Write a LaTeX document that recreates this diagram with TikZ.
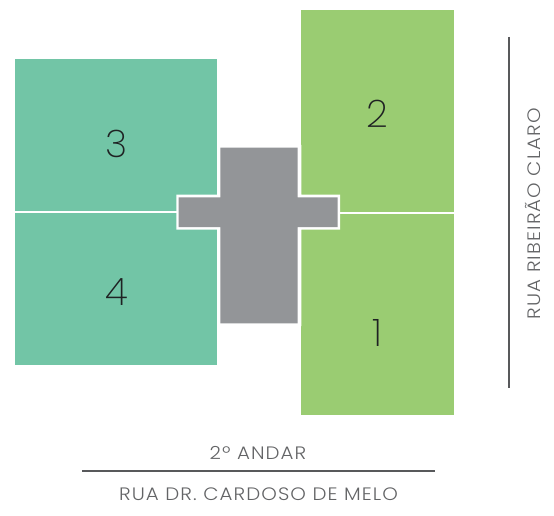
\documentclass[tikz,border=0pt]{standalone}
\usepackage{fontspec}
\setmainfont{Poppins Light}
\newfontfamily\labelfont[FakeStretch=1.1,LetterSpace=6]{Poppins Light}
\newfontfamily\numfont{Poppins ExtraLight}
\definecolor{tealblock}{HTML}{72C5A6}
\definecolor{greenblock}{HTML}{9ACC72}
\definecolor{coregray}{HTML}{939598}
\definecolor{linegray}{HTML}{58595B}
\definecolor{textgray}{HTML}{636466}
\definecolor{numdark}{HTML}{1F2223}
\tikzset{
  unitnum/.style={text=numdark,font=\numfont\fontsize{38}{38}\selectfont,inner sep=0pt,anchor=center},
  streetlabel/.style={text=textgray,font=\labelfont\fontsize{18}{20}\selectfont,inner sep=0pt,anchor=center},
  streetline/.style={draw=linegray,line width=1.5pt}
}
\begin{document}
\begin{tikzpicture}[x=1pt,y=-1pt]
\useasboundingbox (0,0) rectangle (554,516);
\fill[tealblock] (15,59) rectangle (217,210.5);
\fill[tealblock] (15,213) rectangle (217,365);
\fill[greenblock] (301.3,10) rectangle (454,211.5);
\fill[greenblock] (301.3,214) rectangle (454,415);
\fill[white] (176.3,194.5) -- (217,194.5) -- (217,145) -- (301.3,145) -- (301.3,194.5) -- (340,194.5) -- (340,229.5) -- (301.3,229.5) -- (301.3,326) -- (217,326) -- (217,229.5) -- (176.3,229.5) -- cycle;
\fill[coregray] (178.7,197.3) -- (220.3,197.3) -- (220.3,147.7) -- (297.7,147.7) -- (297.7,197.3) -- (337.7,197.3) -- (337.7,227) -- (297.7,227) -- (297.7,323.3) -- (220.3,323.3) -- (220.3,227) -- (178.7,227) -- cycle;
\node[unitnum] (u3) at (117,144) {3};
\node[unitnum] (u4) at (117,292) {4};
\node[unitnum] (u2) at (377,114) {2};
\node[unitnum] (u1) at (377,333) {1};
\node[streetlabel] (andar) at (258,453) {2º ANDAR};
\node[streetlabel] (cardoso) at (258.5,494) {RUA DR. CARDOSO DE MELO};
\node[streetlabel,rotate=90] (ribeirao) at (533,213.5) {RUA RIBEIRÃO CLARO};
\coordinate (bl) at (82,471);
\coordinate (br) at (435,471);
\coordinate (rt) at (509,37);
\coordinate (rb) at (509,388);
\draw[streetline] (bl) -- (br);
\draw[streetline] (rt) -- (rb);
\end{tikzpicture}
\end{document}
